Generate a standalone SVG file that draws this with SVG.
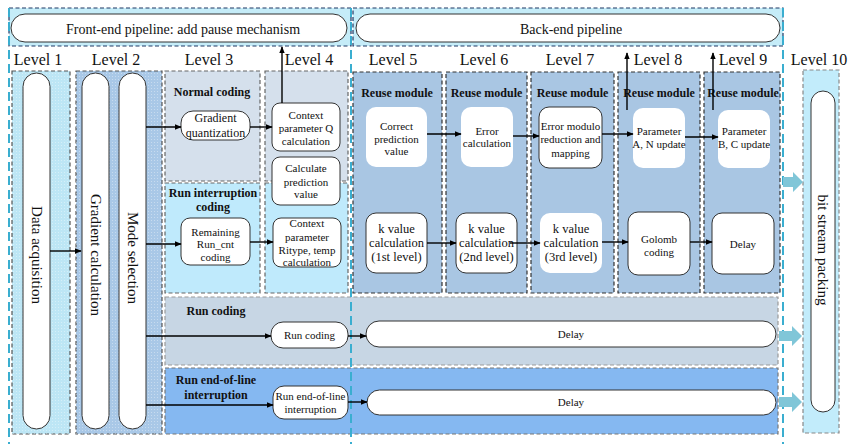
<svg xmlns="http://www.w3.org/2000/svg" width="848" height="444" viewBox="0 0 848 444">
<defs>
<marker id="ah" viewBox="0 0 10 10" refX="9" refY="5" markerWidth="7" markerHeight="7" orient="auto" markerUnits="userSpaceOnUse"><path d="M0,1 L10,5 L0,9 z" fill="#000"/></marker>
<pattern id="dots" width="3" height="3" patternUnits="userSpaceOnUse"><rect width="3" height="3" fill="none"/><rect x="1" y="1" width="1" height="1" fill="#ffffff" opacity="0.35"/></pattern>
</defs>
<style>
text{font-family:"Liberation Serif","Times New Roman",serif;fill:#111}
.lv{font-size:16px;text-anchor:middle}
.hd{font-size:14px;text-anchor:middle}
.t{font-size:11px;text-anchor:middle}
.tk{font-size:12.5px;text-anchor:middle}
.b{font-size:12px;font-weight:bold;text-anchor:middle}
.rv{font-size:15px;text-anchor:middle}
.dash{stroke-dasharray:4 2.5;stroke-width:1.2}
.pill{fill:#fff;stroke:#333;stroke-width:1}
.wb{fill:#fff;stroke:none}
.sb{fill:#fff;stroke:#333;stroke-width:1}
.cy{stroke:#3aaed0;stroke-width:2;stroke-dasharray:9 5;fill:none}
.ln{stroke:#000;stroke-width:1.4;fill:none;marker-end:url(#ah)}
.fat{fill:#80c6d8}
</style>

<g id="headers">
<rect x="9" y="8" width="342" height="38" fill="#c5ecf8" stroke="#1f3864" class="dash"/>
<rect x="11" y="14" width="336" height="28" rx="14" class="pill"/>
<text class="hd" x="183" y="34">Front-end pipeline: add pause mechanism</text>
<rect x="353" y="8" width="430" height="38" fill="#c5ecf8" stroke="#1f3864" class="dash"/>
<rect x="356" y="14" width="424" height="28" rx="14" class="pill"/>
<text class="hd" x="571" y="34">Back-end pipeline</text>
</g>

<g id="levels">
<text class="lv" x="38" y="65">Level 1</text>
<text class="lv" x="116" y="65">Level 2</text>
<text class="lv" x="209" y="65">Level 3</text>
<text class="lv" x="309" y="65">Level 4</text>
<text class="lv" x="393" y="65">Level 5</text>
<text class="lv" x="484" y="65">Level 6</text>
<text class="lv" x="570" y="65">Level 7</text>
<text class="lv" x="658" y="65">Level 8</text>
<text class="lv" x="743" y="65">Level 9</text>
<text class="lv" x="819" y="65">Level 10</text>
</g>

<g id="level1">
<rect x="12" y="71" width="58" height="363" fill="#bde6f5" stroke="#555" class="dash"/>
<rect x="12" y="71" width="58" height="363" fill="url(#dots)"/>
<rect x="23" y="73" width="27" height="356" rx="13.5" class="pill"/>
<text class="rv" transform="translate(37,255) rotate(90)" dy="5">Data acquisition</text>
</g>

<g id="level2">
<rect x="76" y="71" width="86" height="363" fill="#a9c8e7" stroke="#555" class="dash"/>
<rect x="76" y="71" width="86" height="363" fill="url(#dots)"/>
<rect x="82" y="73" width="27" height="356" rx="13.5" class="pill"/>
<text class="rv" transform="translate(95.5,255) rotate(90)" dy="5">Gradient calculation</text>
<rect x="119" y="73" width="27" height="356" rx="13.5" class="pill"/>
<text class="rv" transform="translate(132.5,258) rotate(90)" dy="5">Mode selection</text>
</g>

<g id="normal-coding">
<rect x="165" y="71" width="95" height="110" fill="#d5e0ec" stroke="#666" class="dash"/>
<text class="b" x="212" y="96">Normal coding</text>
<rect x="181" y="111" width="69" height="29" rx="12" class="pill"/>
<text class="t" x="215.5" y="122" style="font-size:12px">Gradient</text>
<text class="t" x="215.5" y="137" style="font-size:12px">quantization</text>
</g>

<g id="run-interruption-coding">
<rect x="165" y="183" width="95" height="110" fill="#bfeafc" stroke="#666" class="dash"/>
<text class="b" x="213" y="197">Run interruption</text>
<text class="b" x="213" y="211">coding</text>
<rect x="181" y="218" width="69" height="47" rx="9" class="pill"/>
<text class="t" x="215.5" y="236">Remaining</text>
<text class="t" x="215.5" y="248">Run_cnt</text>
<text class="t" x="215.5" y="261">coding</text>
</g>

<g id="level4">
<rect x="265" y="71" width="83" height="110" fill="#d5e0ec" stroke="#666" class="dash"/>
<rect x="265" y="183" width="83" height="110" fill="#bfeafc" stroke="#666" class="dash"/>
<rect x="272" y="103" width="68" height="48" rx="8" class="pill"/>
<text class="t" x="306" y="119">Context</text>
<text class="t" x="306" y="132">parameter Q</text>
<text class="t" x="306" y="145">calculation</text>
<rect x="272" y="157" width="68" height="48" rx="8" class="pill"/>
<text class="t" x="306" y="172">Calculate</text>
<text class="t" x="306" y="186">prediction</text>
<text class="t" x="306" y="198">value</text>
<rect x="273" y="218" width="68" height="49" rx="8" class="pill"/>
<text class="t" x="307" y="227">Context</text>
<text class="t" x="307" y="241">parameter</text>
<text class="t" x="307" y="254">Ritype, temp</text>
<text class="t" x="307" y="266">calculation</text>
</g>

<g id="level5">
<rect x="353" y="72" width="89" height="221" fill="#a9c6e3" stroke="#333" class="dash"/>
<text class="b" x="397" y="97">Reuse module</text>
<rect x="366" y="107" width="61" height="60" rx="10" class="wb"/>
<text class="t" x="396.5" y="130">Correct</text>
<text class="t" x="396.5" y="143">prediction</text>
<text class="t" x="396.5" y="155">value</text>
<rect x="366" y="213" width="61" height="60" rx="10" class="sb"/>
<text class="tk" x="396.5" y="233">k value</text>
<text class="tk" x="396.5" y="247">calculation</text>
<text class="tk" x="396.5" y="261">(1st level)</text>
</g>

<g id="level6">
<rect x="446" y="72" width="81" height="221" fill="#a9c6e3" stroke="#333" class="dash"/>
<text class="b" x="486.5" y="97">Reuse module</text>
<rect x="461" y="107" width="52" height="60" rx="10" class="wb"/>
<text class="t" x="487" y="135">Error</text>
<text class="t" x="487" y="147">calculation</text>
<rect x="456" y="213" width="61" height="60" rx="10" class="sb"/>
<text class="tk" x="486.5" y="233">k value</text>
<text class="tk" x="486.5" y="247">calculation</text>
<text class="tk" x="486.5" y="261">(2nd level)</text>
</g>

<g id="level7">
<rect x="531" y="72" width="83" height="221" fill="#a9c6e3" stroke="#333" class="dash"/>
<text class="b" x="572.5" y="97">Reuse module</text>
<rect x="539" y="107" width="63" height="61" rx="10" class="sb"/>
<text class="t" x="570.5" y="130">Error modulo</text>
<text class="t" x="570.5" y="143">reduction and</text>
<text class="t" x="570.5" y="157">mapping</text>
<rect x="540" y="213" width="62" height="60" rx="10" class="wb"/>
<text class="tk" x="571" y="233">k value</text>
<text class="tk" x="571" y="247">calculation</text>
<text class="tk" x="571" y="261">(3rd level)</text>
</g>

<g id="level8">
<rect x="618" y="72" width="82" height="221" fill="#a9c6e3" stroke="#333" class="dash"/>
<text class="b" x="659" y="97">Reuse module</text>
<rect x="633" y="108" width="52" height="60" rx="10" class="wb"/>
<text class="t" x="659" y="135">Parameter</text>
<text class="t" x="659" y="148">A, N update</text>
<rect x="628" y="212" width="62" height="63" rx="10" class="sb"/>
<text class="t" x="659" y="243">Golomb</text>
<text class="t" x="659" y="256">coding</text>
</g>

<g id="level9">
<rect x="704" y="72" width="76" height="221" fill="#a9c6e3" stroke="#333" class="dash"/>
<text class="b" x="743" y="97">Reuse module</text>
<rect x="718" y="110" width="52" height="58" rx="10" class="wb"/>
<text class="t" x="744" y="135">Parameter</text>
<text class="t" x="744" y="148">B, C update</text>
<rect x="712" y="213" width="62" height="61" rx="10" class="sb"/>
<text class="t" x="743" y="248">Delay</text>
</g>

<g id="run-coding">
<rect x="165" y="297" width="613" height="68" fill="#c7d6e4" stroke="#999" class="dash"/>
<text class="b" x="216" y="315">Run coding</text>
<rect x="271" y="322" width="77" height="26" rx="12" class="pill"/>
<text class="t" x="309.5" y="339">Run coding</text>
<rect x="366" y="321" width="410" height="26" rx="13" class="pill"/>
<text class="t" x="571" y="338">Delay</text>
</g>

<g id="run-end-of-line">
<rect x="165" y="368" width="613" height="66" fill="#85b8f1" stroke="#777" class="dash"/>
<text class="b" x="216" y="384">Run end-of-line</text>
<text class="b" x="216" y="399">interruption</text>
<rect x="273" y="386" width="75" height="33" rx="11" class="pill"/>
<text class="t" x="310.5" y="400">Run end-of-line</text>
<text class="t" x="310.5" y="413">interruption</text>
<rect x="367" y="390" width="409" height="25" rx="12.5" class="pill"/>
<text class="t" x="571" y="406">Delay</text>
</g>

<g id="level10">
<rect x="803" y="70" width="36" height="363" fill="#c2ecfb" stroke="#888" class="dash"/>
<rect x="811" y="91" width="24" height="321" rx="12" class="pill"/>
<text class="rv" transform="translate(823,250) rotate(90)" dy="5">bit stream packing</text>
</g>

<g id="dividers">
<line x1="9" y1="8" x2="9" y2="444" class="cy"/>
<line x1="351" y1="8" x2="351" y2="444" class="cy"/>
<line x1="783" y1="8" x2="783" y2="444" class="cy"/>
</g>

<g id="connectors">
<line x1="50" y1="251" x2="81" y2="251" class="ln"/>
<line x1="146" y1="127" x2="181" y2="127" class="ln"/>
<line x1="250" y1="127" x2="272" y2="127" class="ln"/>
<line x1="146" y1="244" x2="181" y2="244" class="ln"/>
<line x1="250" y1="242" x2="273" y2="242" class="ln"/>
<line x1="146" y1="336" x2="271" y2="336" class="ln"/>
<line x1="348" y1="336" x2="366" y2="336" class="ln"/>
<line x1="146" y1="405" x2="273" y2="405" class="ln"/>
<line x1="348" y1="402" x2="367" y2="402" class="ln"/>
<line x1="282" y1="103" x2="282" y2="47" class="ln"/>
<line x1="427" y1="134" x2="461" y2="134" class="ln"/>
<line x1="513" y1="136" x2="539" y2="136" class="ln"/>
<line x1="602" y1="134" x2="633" y2="134" class="ln"/>
<line x1="685" y1="137" x2="718" y2="137" class="ln"/>
<line x1="427" y1="243" x2="456" y2="243" class="ln"/>
<line x1="510" y1="243" x2="540" y2="243" class="ln"/>
<line x1="602" y1="242" x2="628" y2="242" class="ln"/>
<line x1="690" y1="242" x2="712" y2="242" class="ln"/>
<line x1="627" y1="110" x2="627" y2="53" class="ln"/>
<line x1="713" y1="110" x2="713" y2="53" class="ln"/>
<path class="fat" d="M783,177 H793 V172 L803,182 L793,192 V187 H783 Z"/>
<path class="fat" d="M779,331 H792 V326 L802,336 L792,346 V341 H779 Z"/>
<path class="fat" d="M779,397 H792 V392 L802,402 L792,412 V407 H779 Z"/>
</g>
</svg>
